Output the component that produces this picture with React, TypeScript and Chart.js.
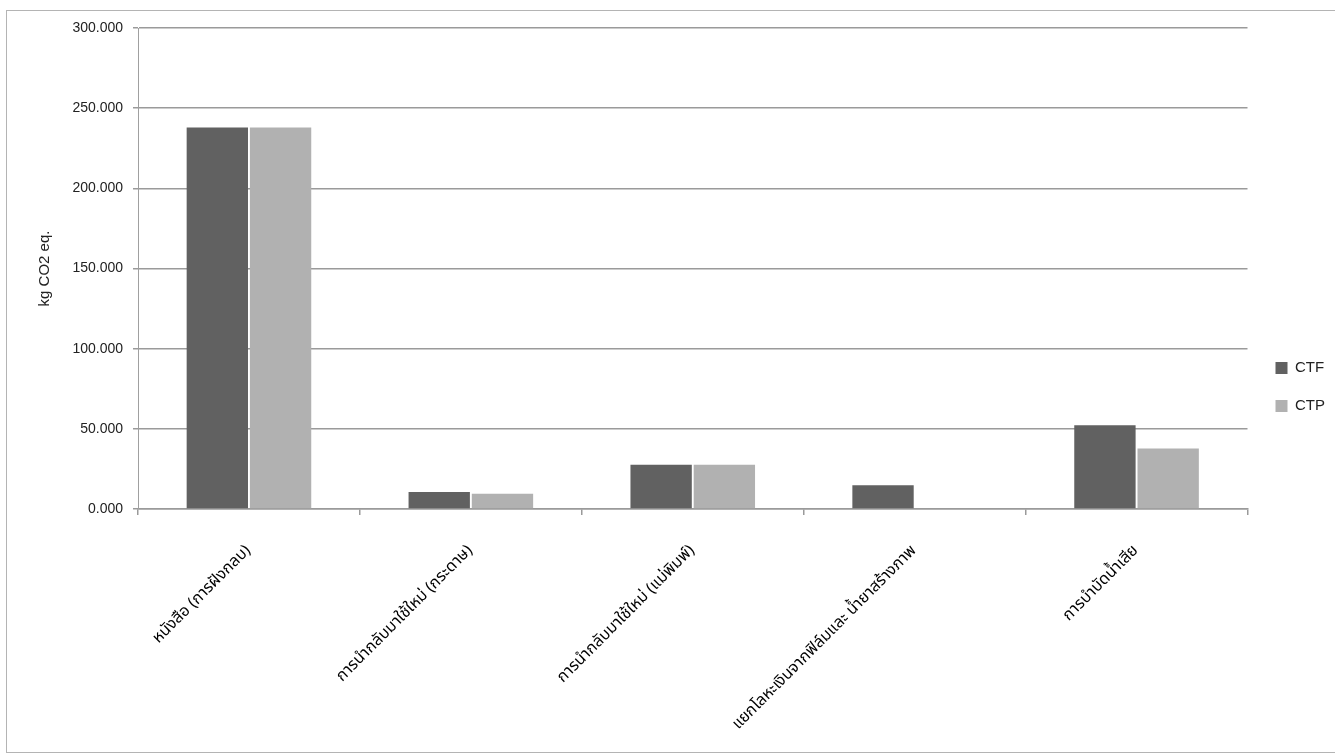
import React, { useEffect, useRef } from "react";
import { Chart, registerables } from "chart.js";

Chart.register(...registerables);

const categories: string[] = [
  "หนังสือ (การฝังกลบ)",
  "การนำกลับมาใช้ใหม่ (กระดาษ)",
  "การนำกลับมาใช้ใหม่ (แม่พิมพ์)",
  "แยกโลหะเงินจากฟิล์มและ น้ำยาสร้างภาพ",
  "การบำบัดน้ำเสีย",
];
const ctfValues: number[] = [238, 10.6, 27.6, 14.8, 52.3];
const ctpValues: number[] = [238, 9.5, 27.6, 0, 37.8];
const seriesNames: string[] = ["CTF", "CTP"];
const yTicks: number[] = [0, 50, 100, 150, 200, 250, 300];
const yTitle = "kg CO2 eq.";

const SANS = '"Liberation Sans", Arial, Helvetica, sans-serif';
const THAI = 'Tahoma, "Noto Sans Thai", "Loma", "Garuda", "Norasi", "DejaVu Sans", sans-serif';

export default function App() {
  const ref = useRef<HTMLCanvasElement | null>(null);

  useEffect(() => {
    document.body.style.margin = "0";
    document.body.style.overflow = "hidden";
    const canvas = ref.current;
    if (!canvas) return;
    const chart = new Chart(canvas, {
      type: "bar",
      data: {
        labels: categories,
        datasets: [
          {
            label: seriesNames[0],
            data: ctfValues,
            backgroundColor: "#616161",
            borderWidth: 0,
            barPercentage: 0.97,
            categoryPercentage: 0.57,
          },
          {
            label: seriesNames[1],
            data: ctpValues,
            backgroundColor: "#b1b1b1",
            borderWidth: 0,
            barPercentage: 0.97,
            categoryPercentage: 0.57,
          },
        ],
      },
      options: {
        animation: false,
        responsive: false,
        maintainAspectRatio: false,
        layout: { padding: { left: 32, top: 28, right: 0, bottom: 10 } },
        plugins: {
          tooltip: { enabled: false },
          legend: {
            position: "right",
            align: "center",
            labels: {
              boxWidth: 12,
              boxHeight: 12,
              padding: 23,
              color: "#222",
              font: { family: SANS, size: 15 },
            },
          },
        },
        scales: {
          x: {
            grid: {
              display: true,
              drawOnChartArea: false,
              drawTicks: true,
              tickLength: 6,
              color: "#9a9a9a",
              lineWidth: 1.5,
            },
            border: { display: true, color: "#9a9a9a", width: 1.5 },
            ticks: {
              autoSkip: false,
              maxRotation: 45,
              minRotation: 45,
              padding: 27,
              color: "#000",
              font: { family: THAI, size: 16 },
            },
            afterFit: (scale: any) => {
              scale.height = 237;
            },
          },
          y: {
            min: 0,
            max: 300,
            afterBuildTicks: (scale: any) => {
              scale.ticks = yTicks.map((v) => ({ value: v }));
            },
            grid: {
              color: "#9a9a9a",
              lineWidth: 1.5,
              drawTicks: true,
              tickLength: 5,
            },
            border: { display: true, color: "#a0a0a0", width: 1 },
            ticks: {
              padding: 10,
              color: "#222",
              font: { family: SANS, size: 14 },
              callback: (v: any) => Number(v).toFixed(3),
            },
            title: {
              display: true,
              text: yTitle,
              color: "#222",
              font: { family: SANS, size: 15 },
              padding: { top: 4, bottom: 4 },
            },
            afterFit: (scale: any) => {
              scale.width = 106;
            },
          },
          yr: {
            position: "right",
            display: true,
            grid: { display: false },
            border: { display: false },
            ticks: { display: false },
            afterFit: (scale: any) => {
              scale.width = 5;
            },
          },
        },
      },
    });
    return () => chart.destroy();
  }, []);

  return (
    <div style={{ position: "relative", width: 1335, height: 756, background: "#fff" }}>
      <div
        style={{
          position: "absolute",
          left: 6,
          top: 10,
          width: 1340,
          height: 743,
          border: "1px solid #b4b4b4",
          boxSizing: "border-box",
        }}
      />
      <canvas
        ref={ref}
        width={1335}
        height={756}
        style={{ position: "absolute", left: 0, top: 0, width: 1335, height: 756 }}
      />
    </div>
  );
}
